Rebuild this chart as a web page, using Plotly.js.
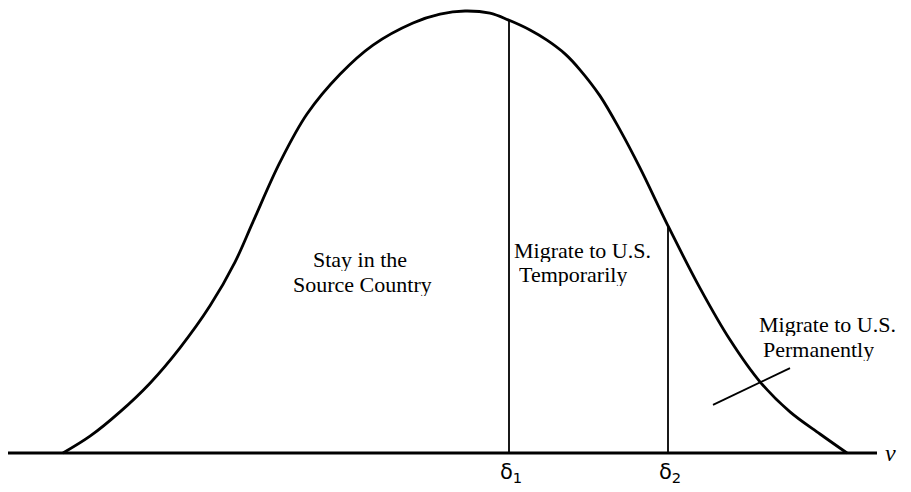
<!DOCTYPE html>
<html>
<head>
<meta charset="utf-8">
<script src="https://cdn.plot.ly/plotly-3.0.1.min.js"></script>
<style>
  html, body { margin: 0; padding: 0; background: #fff; }
  #chart { width: 911px; height: 492px; }
</style>
</head>
<body>
<div id="chart"></div>
<script>
// Skill level (nu) along the axis and the density of the distribution
const nu      = [0.00, 0.27, 0.57, 0.87, 1.17, 1.47, 1.72, 1.90, 2.17, 2.44, 2.77, 3.10, 3.50, 3.77, 4.02, 4.27, 4.45, 4.67, 4.84, 5.02, 5.17, 5.37, 5.57, 5.77, 6.05, 6.37, 6.67, 6.97, 7.27, 7.57, 7.84];
const density = [0.000, 0.038, 0.093, 0.158, 0.238, 0.333, 0.432, 0.523, 0.658, 0.767, 0.857, 0.923, 0.973, 0.993, 1.000, 0.995, 0.980, 0.957, 0.934, 0.903, 0.867, 0.808, 0.731, 0.645, 0.514, 0.373, 0.256, 0.161, 0.093, 0.043, 0.000];

// Thresholds
const thresholdLabels  = ['δ<sub>1</sub>', 'δ<sub>2</sub>'];
const thresholdValues  = [4.46, 6.05];
const thresholdHeights = [0.979, 0.514];

// Axis extent and label
const axisExtent = [-0.55, 8.14];
const axisLabel = 'ν';

// Region labels (one entry per text line)
const regionLines = ['Stay in the', 'Source Country', 'Migrate to U.S.', 'Temporarily', 'Migrate to U.S.', 'Permanently'];
const regionX     = [2.97, 2.99, 4.50, 4.55, 6.95, 6.99];
const regionY     = [0.437, 0.382, 0.459, 0.405, 0.290, 0.235];
const regionAlign = ['center', 'center', 'left', 'left', 'left', 'left'];

const traces = [];
// horizontal axis line
traces.push({
  x: axisExtent, y: [0, 0], mode: 'lines',
  line: { color: '#000', width: 3 }, hoverinfo: 'skip'
});
// distribution curve
traces.push({
  x: nu, y: density, mode: 'lines',
  line: { color: '#000', width: 2.8, shape: 'spline', smoothing: 1 }, hoverinfo: 'skip'
});
// threshold vertical lines
thresholdValues.forEach((v, i) => {
  traces.push({
    x: [v, v], y: [0, thresholdHeights[i]], mode: 'lines',
    line: { color: '#000', width: 1.8 }, hoverinfo: 'skip'
  });
});

const serif = 'Liberation Serif, Times New Roman, serif';
const annotations = [];
regionLines.forEach((t, i) => {
  annotations.push({
    x: regionX[i], y: regionY[i], xref: 'x', yref: 'y', text: t,
    showarrow: false, xanchor: regionAlign[i], yanchor: 'middle',
    height: 23, borderpad: 0, valign: 'middle',
    font: { family: serif, size: 22, color: '#000' }
  });
});
thresholdLabels.forEach((t, i) => {
  annotations.push({
    x: thresholdValues[i] + 0.02, y: -0.045, xref: 'x', yref: 'y', text: t,
    showarrow: false, xanchor: 'center', yanchor: 'middle',
    font: { family: 'DejaVu Sans, sans-serif', size: 21, color: '#000' }
  });
});
annotations.push({
  x: axisExtent[1] + 0.13, y: 0, xref: 'x', yref: 'y', text: '<i>' + axisLabel + '</i>',
  showarrow: false, xanchor: 'center', yanchor: 'middle',
  font: { family: serif, size: 24, color: '#000' }
});

const layout = {
  width: 911, height: 492,
  margin: { l: 0, r: 0, t: 0, b: 0, pad: 0 },
  paper_bgcolor: '#fff', plot_bgcolor: '#fff',
  showlegend: false,
  xaxis: { range: [-0.63, 8.48], visible: false, fixedrange: true },
  yaxis: { range: [-0.0882, 1.0249], visible: false, fixedrange: true },
  shapes: [{
    type: 'line', xref: 'x', yref: 'y',
    x0: 6.50, y0: 0.109, x1: 7.27, y1: 0.192,
    line: { color: '#000', width: 1.8 }
  }],
  annotations: annotations
};

Plotly.newPlot('chart', traces, layout, { staticPlot: true, displayModeBar: false });
</script>
</body>
</html>
